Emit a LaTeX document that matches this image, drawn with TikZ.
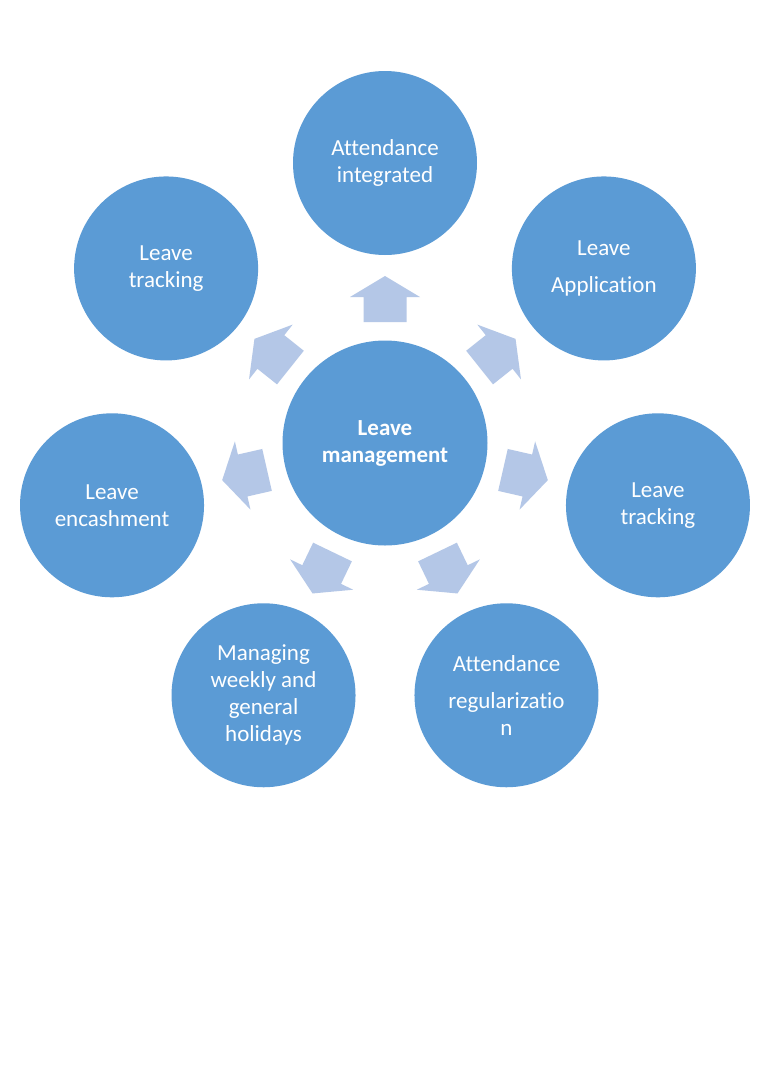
\documentclass[tikz,border=0pt]{standalone}
\usepackage{fontspec}
\setmainfont{Carlito}[Ligatures=NoCommon]
\usetikzlibrary{calc}
\definecolor{circblue}{RGB}{91,155,213}
\definecolor{arrblue}{RGB}{180,199,231}
\begin{document}
\begin{tikzpicture}[x=1pt,y=1pt,
  hub/.style={circle,fill=circblue,text=white,minimum size=205pt,inner sep=0pt,align=center,font=\bfseries\fontsize{23}{27}\selectfont},
  spoke/.style={circle,fill=circblue,text=white,minimum size=184pt,inner sep=0pt,align=center,font=\fontsize{23}{27}\selectfont},
  blockarrow/.style={fill=arrblue}]
\useasboundingbox[fill=white] (0,0) rectangle (768,-1087);
\coordinate (c) at (385,-443);
\node[hub] (hub) at (c) {Leave\\management};
\node[spoke] (n1) at ($(c)+(90:280)$) {Attendance\\integrated};
\node[spoke] (n2) at ($(c)+(38.571:280)$) {Leave\\[10pt]Application};
\node[spoke] (n3) at ($(c)+(-12.857:280)$) {Leave\\tracking};
\node[spoke] (n4) at ($(c)+(-64.286:280)$) {Attendance\\[10pt]regularizatio\\n};
\node[spoke] (n5) at ($(c)+(-115.714:280)$) {Managing\\weekly and\\general\\holidays};
\node[spoke] (n6) at ($(c)+(192.857:280)$) {Leave\\encashment};
\node[spoke] (n7) at ($(c)+(141.429:280)$) {Leave\\tracking};
\foreach \a in {90,38.571,-12.857,-64.286,-115.714,192.857,141.429}{
  \fill[blockarrow,shift={(hub.center)},rotate=\a]
    (121,-21.5) -- (146,-21.5) -- (146,-35) -- (167,0) -- (146,35) -- (146,21.5) -- (121,21.5) -- cycle;
}
\end{tikzpicture}
\end{document}
